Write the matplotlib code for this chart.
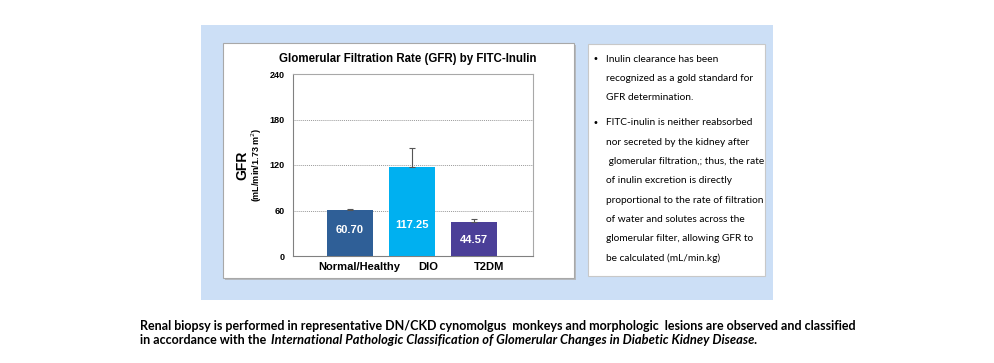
import matplotlib.pyplot as plt
import matplotlib.transforms as mtransforms
from matplotlib.patches import Rectangle

# data
groups = ["Normal/Healthy", "DIO", "T2DM"]
gfr = [60.70, 117.25, 44.57]
gfr_err = [1.8, 25.0, 4.0]
bar_colors = ["#2F5F97", "#00B0F0", "#4B3F98"]
y_ticks = [0, 60, 120, 180, 240]

bullets = [
    ["Inulin clearance has been",
     "recognized as a gold standard for",
     "GFR determination."],
    ["FITC-inulin is neither reabsorbed",
     "nor secreted by the kidney after",
     " glomerular filtration,; thus, the rate",
     "of inulin excretion is directly",
     "proportional to the rate of filtration",
     "of water and solutes across the",
     "glomerular filter, allowing GFR to",
     "be calculated (mL/min.kg)"],
]

W, H = 995, 363
fig = plt.figure(figsize=(W / 100, H / 100), dpi=100)
fig.patch.set_facecolor("white")


def px_rect(x0, y0, x1, y1):
    # pixel box (top-left origin) -> figure fraction [l, b, w, h]
    return [x0 / W, 1 - y1 / H, (x1 - x0) / W, (y1 - y0) / H]


def fx(x):
    return x / W


def fy(y):
    return 1 - y / H


# light blue panel and the two white boxes
fig.patches.append(Rectangle((fx(201), fy(300)), (773 - 201) / W, (300 - 25) / H,
                             transform=fig.transFigure, facecolor="#CCDFF6",
                             edgecolor="none", zorder=0))
# shadow of the chart box
fig.patches.append(Rectangle((fx(225), fy(280)), (576 - 225) / W, (280 - 45) / H,
                             transform=fig.transFigure, facecolor="#B5B9BF",
                             edgecolor="none", zorder=1))
fig.patches.append(Rectangle((fx(223), fy(278)), (574 - 223) / W, (278 - 43) / H,
                             transform=fig.transFigure, facecolor="white",
                             edgecolor="#A8A8A8", linewidth=0.8, zorder=1))
fig.patches.append(Rectangle((fx(588), fy(276)), (765 - 588) / W, (276 - 44) / H,
                             transform=fig.transFigure, facecolor="white",
                             edgecolor="#C8C8C8", linewidth=0.8, zorder=1))

# bar chart
ax = fig.add_axes(px_rect(293, 74, 533, 256))
ax.set_zorder(2)
x = list(range(len(groups)))
ax.bar(x, gfr, width=0.74, color=bar_colors, zorder=3)
ax.errorbar(x, gfr, yerr=[[0] * len(gfr), gfr_err], fmt="none",
            ecolor="#555555", elinewidth=0.8, capsize=2.5, capthick=0.8, zorder=4)
label_y = [34, 41, 21]
for xi, v, ly in zip(x, gfr, label_y):
    ax.text(xi, ly, f"{v:.2f}", color="white", ha="center", va="center",
            fontsize=8, fontweight="bold", family="Liberation Sans", zorder=5)

ax.set_xlim(-0.92, 2.95)
ax.set_ylim(0, 240)
ax.set_yticks(y_ticks)
ax.set_yticklabels([str(t) for t in y_ticks], fontsize=6.5, fontweight="bold",
                   family="Liberation Sans")
ax.set_xticks(x)
ax.set_xticklabels(groups, fontsize=8, fontweight="bold", family="Liberation Sans")
ax.tick_params(axis="both", length=0, pad=4)
ax.tick_params(axis="y", pad=6)
# category labels sit a little right of their bars in the reference
for lab, dx in zip(ax.get_xticklabels(), [9, 16, 15]):
    lab.set_transform(lab.get_transform() +
                      mtransforms.ScaledTranslation(dx / 100, 0, fig.dpi_scale_trans))
ax.grid(axis="y", linestyle=(0, (1, 1)), color="#9A9A9A", linewidth=0.7, zorder=0)
for s in ax.spines.values():
    s.set_color("#A8A8A8")
    s.set_linewidth(0.8)
ax.spines["bottom"].set_color("#808080")
ax.spines["left"].set_color("#808080")

fig.text(fx(242), fy(165), "GFR", rotation=90, ha="center", va="center",
         fontsize=10, fontweight="bold", family="Liberation Sans")
fig.text(fx(257), fy(165), "(mL/min/1.73 m$^{2}$)", rotation=90, ha="center",
         va="center", fontsize=6.5, fontweight="bold", family="Liberation Sans")
fig.text(fx(408), fy(59), "Glomerular Filtration Rate (GFR) by FITC-Inulin",
         ha="center", va="center", fontsize=8.3, fontweight="bold",
         family="Liberation Sans")

# bullet text box
line_y = 59
for block in bullets:
    fig.text(fx(593), fy(line_y), "\u2022", ha="left", va="center", fontsize=7,
             family="DejaVu Sans")
    for line in block:
        fig.text(fx(606), fy(line_y), line, ha="left", va="center", fontsize=7.3,
                 family="Lato")
        line_y += 19.3
    line_y += 6

# caption below
cap_size = 9.0
fig.text(fx(140), fy(326),
         "Renal biopsy is performed in representative DN/CKD cynomolgus  monkeys and "
         "morphologic  lesions are observed and classified",
         ha="left", va="center", fontsize=cap_size, fontweight="bold", family="Lato")
fig.text(fx(140), fy(340), "in accordance with the ", ha="left", va="center",
         fontsize=cap_size, fontweight="bold", family="Lato")
fig.text(fx(271), fy(340),
         "International Pathologic Classification of Glomerular Changes in Diabetic Kidney Disease.",
         ha="left", va="center", fontsize=9.3, fontweight="bold", style="italic",
         family="Lato")

fig.savefig("out.png", dpi=100)
